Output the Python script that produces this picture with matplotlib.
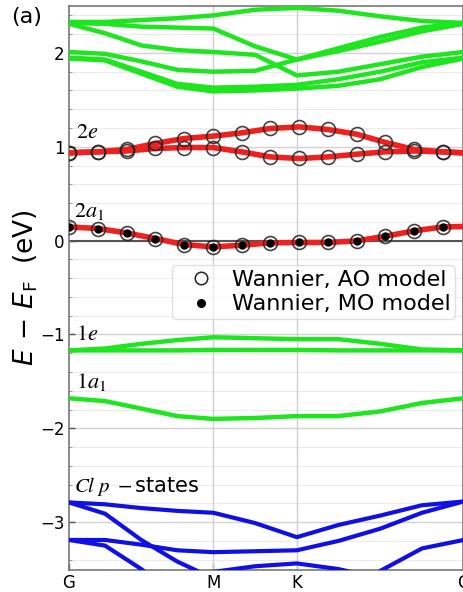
import numpy as np
import matplotlib
matplotlib.use('Agg')
import matplotlib.pyplot as plt
from matplotlib.ticker import MultipleLocator
from matplotlib.lines import Line2D

plt.rcParams['mathtext.fontset'] = 'dejavusans'

# high-symmetry path G-M-K-G
sym_pos = [0.0, 0.577, 0.911, 1.577]
sym_lab = ['G', 'M', 'K', 'G']

# k-points where the DFT bands were read
k_dft = [0.0, 0.144, 0.289, 0.433, 0.577, 0.744, 0.911, 1.077, 1.244, 1.411, 1.577]

# upper green bands (above 1.5 eV)
up1 = [2.33, 2.33, 2.35, 2.37, 2.40, 2.46, 2.48, 2.45, 2.39, 2.34, 2.32]
up2 = [2.32, 2.31, 2.28, 2.27, 2.26, 2.07, 1.93, 2.05, 2.17, 2.27, 2.32]
up3 = [2.31, 2.21, 2.08, 2.03, 2.01, 1.98, 1.76, 1.80, 1.88, 1.96, 2.01]
up4 = [2.01, 1.99, 1.91, 1.82, 1.80, 1.81, 1.93, 2.02, 2.12, 2.23, 2.31]
up5 = [1.95, 1.93, 1.80, 1.67, 1.63, 1.64, 1.66, 1.72, 1.80, 1.90, 1.95]
up6 = [1.94, 1.92, 1.78, 1.64, 1.59, 1.60, 1.62, 1.65, 1.72, 1.85, 1.94]

# 1e and 1a1 bands
e1_top = [-1.17, -1.15, -1.10, -1.06, -1.03, -1.04, -1.05, -1.05, -1.10, -1.16, -1.17]
e1_bot = [-1.17, -1.17, -1.17, -1.17, -1.165, -1.165, -1.165, -1.17, -1.17, -1.17, -1.17]
a1_1 = [-1.68, -1.71, -1.79, -1.87, -1.90, -1.89, -1.87, -1.87, -1.82, -1.73, -1.68]

# Cl p states
cl1 = [-2.79, -2.81, -2.85, -2.88, -2.90, -3.01, -3.16, -3.03, -2.93, -2.82, -2.78]
cl2 = [-2.79, -2.91, -3.19, -3.42, -3.60, -3.75, -3.80, -3.80, -3.75, -3.70, -3.65]
cl3 = [-4.00, -3.90, -3.75, -3.58, -3.53, -3.47, -3.44, -3.50, -3.60, -3.70, -3.80]
cl4 = [-3.19, -3.19, -3.24, -3.30, -3.32, -3.31, -3.30, -3.20, -3.07, -2.90, -2.78]
cl5 = [-3.19, -3.25, -3.50, -3.80, -3.95, -4.00, -4.00, -3.90, -3.52, -3.28, -3.19]

# Wannier bands (red) sampled at the marker points, last value at G
k_w = [0.0, 0.115, 0.230, 0.345, 0.460, 0.575, 0.690, 0.805, 0.920, 1.035,
       1.150, 1.265, 1.380, 1.494, 1.577]
a1_2 = [0.146, 0.129, 0.082, 0.022, -0.042, -0.067, -0.049, -0.024, -0.020,
        -0.020, -0.003, 0.047, 0.104, 0.146, 0.150]
e2_up = [0.935, 0.946, 0.971, 1.035, 1.088, 1.113, 1.148, 1.195, 1.212,
         1.184, 1.134, 1.046, 0.971, 0.946, 0.935]
e2_lo = [0.935, 0.946, 0.955, 0.982, 0.992, 0.992, 0.946, 0.892, 0.875,
         0.892, 0.921, 0.946, 0.955, 0.946, 0.935]

fig = plt.figure(figsize=(4.64, 5.92), dpi=100)
ax = fig.add_axes([69/464, 22/592, 394.5/464, 564/592])

green = '#1ee61e'
blue = '#1010e6'
red = '#f0201e'

for b in [up1, up2, up3, up4, up5, up6, e1_top, e1_bot, a1_1]:
    ax.plot(k_dft, b, color=green, lw=3.2, solid_capstyle='round',
            solid_joinstyle='round', zorder=3)
for b in [cl1, cl2, cl3, cl4, cl5]:
    ax.plot(k_dft, b, color=blue, lw=3.0, solid_capstyle='round',
            solid_joinstyle='round', zorder=3)
for b in [a1_2, e2_up, e2_lo]:
    ax.plot(k_w, b, color=red, lw=4.0, solid_capstyle='round',
            solid_joinstyle='round', zorder=4)

n = 14
for b in [a1_2, e2_up, e2_lo]:
    ax.plot(k_w[:n], b[:n], 'o', ms=10, mfc='none', mec='#222222', mew=1.2,
            alpha=0.85, zorder=5)
ax.plot(k_w[:n], a1_2[:n], 'o', ms=5, color='black', zorder=6)

ax.axhline(0, color='#555555', lw=1.5, zorder=2)

ax.set_xlim(0, 1.577)
ax.set_ylim(-3.51, 2.5)
ax.set_xticks(sym_pos)
ax.set_xticklabels(sym_lab)
for x in sym_pos[1:3]:
    ax.axvline(x, color='#cfcfcf', lw=1, zorder=1)
ax.yaxis.set_major_locator(MultipleLocator(1))
ax.yaxis.set_minor_locator(MultipleLocator(0.2))
ax.grid(axis='y', which='major', color='#d2d2d2', lw=1, zorder=0)
ax.grid(axis='y', which='minor', color='#ececec', lw=0.8, zorder=0)
ax.set_axisbelow(True)
ax.tick_params(direction='in', labelsize=12, length=4, width=1, color='#555555')
ax.tick_params(which='minor', direction='in', length=2.5, color='#888888')
ax.tick_params(axis='x', pad=3)
ax.tick_params(axis='y', pad=3)
for s in ax.spines.values():
    s.set_color('#777777')
    s.set_linewidth(1.2)

ax.set_ylabel(r'$E\,-\,E_\mathrm{F}$  (eV)', fontsize=19, labelpad=0)

tfs = 16
ax.text(0.026, 1.09, r'$2e$', fontsize=tfs, va='baseline', math_fontfamily='stix')
ax.text(0.020, 0.25, r'$2a_1$', fontsize=tfs, va='baseline', math_fontfamily='stix')
ax.text(0.026, -1.06, r'$1e$', fontsize=tfs, va='baseline', math_fontfamily='stix')
ax.text(0.026, -1.57, r'$1a_1$', fontsize=tfs, va='baseline', math_fontfamily='stix')
ax.text(0.020, -2.68, r'$Cl\ p\ -$states', fontsize=15, va='baseline',
        math_fontfamily='stix')

handles = [Line2D([], [], ls='none', marker='o', ms=9, mfc='none', mec='#222222', mew=1.1),
           Line2D([], [], ls='none', marker='o', ms=5.5, color='black')]
ax.legend(handles, ['Wannier, AO model', 'Wannier, MO model'], loc='upper right',
          bbox_to_anchor=(0.978, 0.54), borderaxespad=0, fontsize=16,
          framealpha=0.6, handlelength=2.2, handletextpad=0.3,
          labelspacing=0.2, borderpad=0.2)

fig.text(0.025, 0.988, '(a)', fontsize=16, va='top', ha='left')

fig.savefig('out.png', dpi=100)
